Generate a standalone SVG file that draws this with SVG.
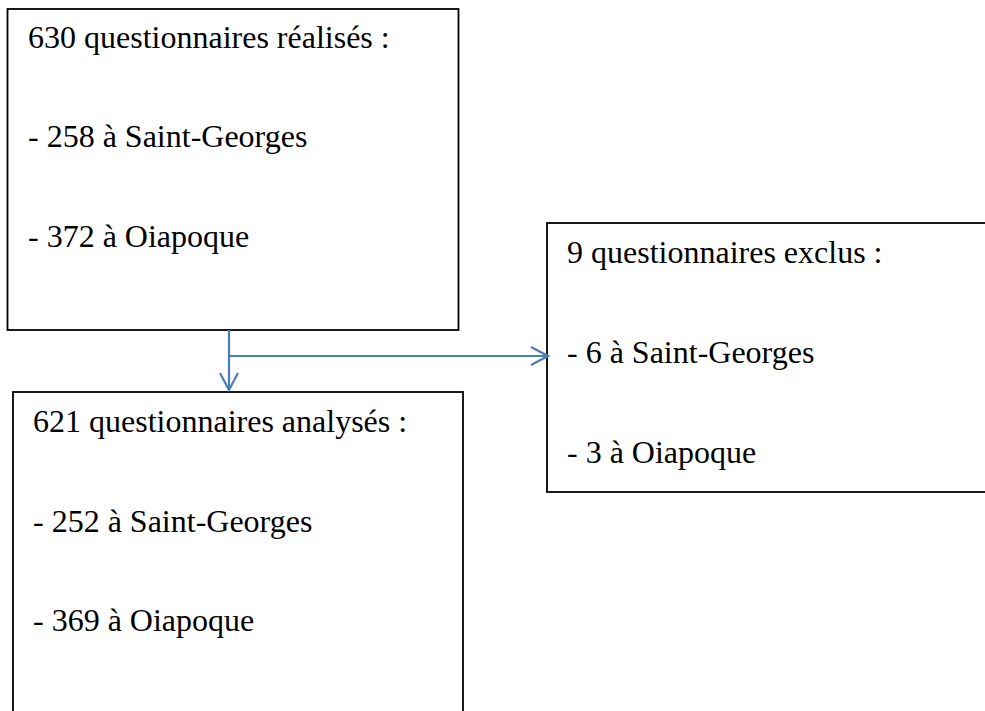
<svg xmlns="http://www.w3.org/2000/svg" width="985" height="711" viewBox="0 0 985 711">
<style>
.box{fill:#fff;stroke:#000;stroke-width:1.8}
.t{font-family:"Liberation Serif","Times New Roman",serif;font-size:32px;fill:#000}
.c{fill:none;stroke:#4a7ebb;stroke-width:2.2}
</style>
<defs>
<marker id="arr" viewBox="0 0 20 20" refX="18" refY="10" markerWidth="20" markerHeight="20" markerUnits="userSpaceOnUse" orient="auto">
<path d="M1,1 L18,10 L1,19" fill="none" stroke="#4a7ebb" stroke-width="2.2"/>
</marker>
</defs>
<rect width="985" height="711" fill="#fff"/>
<g id="node-realises">
<rect class="box" x="7.5" y="9" width="451" height="321"/>
<text class="t" x="28" y="48">630 questionnaires réalisés :</text>
<text class="t" x="28" y="147">- 258 à Saint-Georges</text>
<text class="t" x="28" y="247">- 372 à Oiapoque</text>
</g>
<g id="node-analyses">
<rect class="box" x="13" y="392" width="450" height="330"/>
<text class="t" x="33" y="432">621 questionnaires analysés :</text>
<text class="t" x="33" y="532">- 252 à Saint-Georges</text>
<text class="t" x="33" y="631">- 369 à Oiapoque</text>
</g>
<g id="node-exclus">
<rect class="box" x="547" y="223" width="450" height="269"/>
<text class="t" x="567" y="263">9 questionnaires exclus :</text>
<text class="t" x="567" y="363">- 6 à Saint-Georges</text>
<text class="t" x="567" y="463">- 3 à Oiapoque</text>
</g>
<g id="connectors">
<path class="c" d="M229,330 L229,390" marker-end="url(#arr)"/>
<path class="c" d="M229,356 L548,356" marker-end="url(#arr)"/>
</g>
</svg>
